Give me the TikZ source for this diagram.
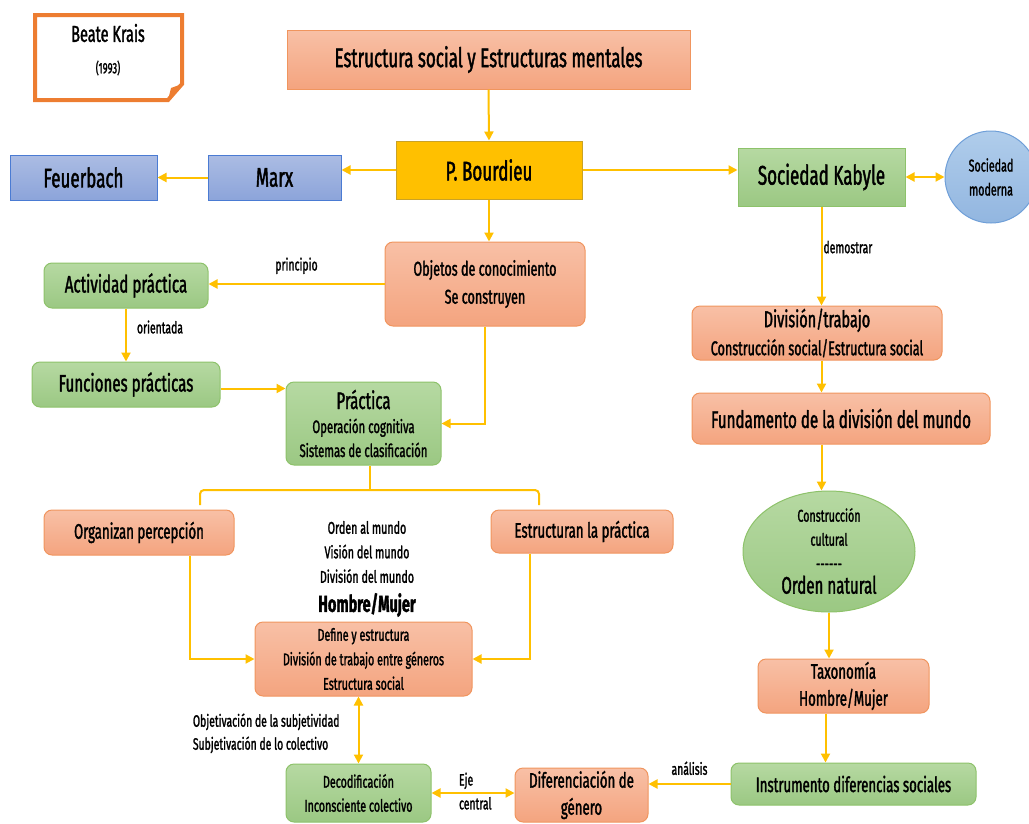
\documentclass[tikz,border=0pt]{standalone}
\usepackage{fontspec}
\setmainfont{Fira Sans}[FakeStretch=0.63, FakeBold=1.5]
\usetikzlibrary{arrows.meta, shapes.geometric}

\definecolor{oro}{HTML}{FFC000}
\definecolor{naranja}{HTML}{ED7D31}
\definecolor{salmonA}{HTML}{F8C0A6}
\definecolor{salmonB}{HTML}{F4A47F}
\definecolor{salmonL}{HTML}{F0955E}
\definecolor{verdeA}{HTML}{B6D9A2}
\definecolor{verdeB}{HTML}{9BC883}
\definecolor{verdeL}{HTML}{8DC26A}
\definecolor{azulA}{HTML}{ABBCE3}
\definecolor{azulB}{HTML}{8CA4DA}
\definecolor{azulL}{HTML}{4A7BD3}
\definecolor{cieloA}{HTML}{B0CDEB}
\definecolor{cieloB}{HTML}{92B6E0}
\definecolor{cieloL}{HTML}{6F9FD8}
\definecolor{oroL}{HTML}{C9A227}

\newcommand{\tam}[2]{\fontsize{#1}{#2}\selectfont}

\tikzset{
  arr/.style={draw=oro, line width=2pt, -{Triangle[length=9pt,width=9pt]}},
  dblarr/.style={arr, {Triangle[length=9pt,width=9pt]}-{Triangle[length=9pt,width=9pt]}},
  caja/.style={line width=1pt, align=center, inner sep=0pt},
  salmon/.style={caja, draw=salmonL, top color=salmonA, bottom color=salmonB},
  verde/.style={caja, draw=verdeL, top color=verdeA, bottom color=verdeB},
  azul/.style={caja, draw=azulL, top color=azulA, bottom color=azulB},
  redondo/.style={rounded corners=8pt},
  etiqueta/.style={font=\tam{16.5}{23}, inner sep=0pt}
}

\begin{document}
\begin{tikzpicture}[x=1pt,y=-1pt]
\useasboundingbox (0,0) rectangle (1029,823);

% nota del autor
\draw[naranja, line width=4pt, fill=white] (35,15) -- (182,15) -- (182,84) -- (168,100) -- (35,100) -- cycle;
\fill[naranja] (168,100) -- (171,88) -- (182,84) -- cycle;
\node[font=\tam{23}{26}] (krais) at (108,33) {Beate Krais};
\node[font=\tam{15}{18}] (anio) at (108,68) {(1993)};

% fila superior
\node[salmon, minimum width=403pt, minimum height=59pt, font=\tam{27}{30}] (estructura) at (488.5,59.5) {Estructura social y Estructuras mentales};
\node[caja, draw=oroL, fill=oro, minimum width=186pt, minimum height=58pt, font=\tam{27}{30}] (bourdieu) at (489,170) {P. Bourdieu};
\node[azul, minimum width=133pt, minimum height=45pt, font=\tam{27}{30}] (marx) at (274.5,177.5) {Marx};
\node[azul, minimum width=147pt, minimum height=45pt, font=\tam{27}{30}] (feuerbach) at (83.5,177.5) {Feuerbach};
\node[verde, minimum width=167pt, minimum height=58pt, font=\tam{27}{30}] (kabyle) at (821.5,177) {Sociedad Kabyle};
\node[caja, circle, draw=cieloL, top color=cieloA, bottom color=cieloB, minimum size=92pt, font=\tam{17}{24}] (moderna) at (991,177) {Sociedad\\moderna};

% columna izquierda
\node[salmon, redondo, minimum width=200pt, minimum height=84pt, font=\tam{20}{28}] (objetos) at (485,284) {Objetos de conocimiento\\Se construyen};
\node[verde, redondo, minimum width=164pt, minimum height=45pt, font=\tam{24}{28}] (actividad) at (126,285.5) {Actividad práctica};
\node[verde, redondo, minimum width=188pt, minimum height=45pt, font=\tam{24}{28}] (funciones) at (126,384.5) {Funciones prácticas};
\node[verde, redondo, minimum width=155pt, minimum height=83pt, font=\tam{18}{24}] (practica) at (363.5,423.5) {{\tam{24}{26}Práctica}\\Operación cognitiva\\Sistemas de clasificación};
\node[salmon, redondo, minimum width=190pt, minimum height=45pt, font=\tam{21}{26}] (organizan) at (139,532.5) {Organizan percepción};
\node[salmon, redondo, minimum width=182pt, minimum height=43pt, font=\tam{21}{26}] (estructuran) at (582,531.5) {Estructuran la práctica};
\node[font=\tam{17}{24.5}, align=center] (orden) at (367,552) {Orden al mundo\\Visión del mundo\\División del mundo};
\node[font=\tam{23}{28}\bfseries] (hombre) at (367,605) {Hombre/Mujer};
\node[salmon, redondo, minimum width=217pt, minimum height=74pt, font=\tam{17}{24.5}] (define) at (363.5,659) {Define y estructura\\División de trabajo entre géneros\\Estructura social};
\node[verde, redondo, minimum width=145pt, minimum height=58pt, font=\tam{17}{24}] (decod) at (358.5,793) {Decodificación\\Inconsciente colectivo};
\node[salmon, redondo, minimum width=133pt, minimum height=54pt, font=\tam{21}{27}] (diferencia) at (581.5,795) {Diferenciación de\\género};

% columna derecha
\node[salmon, redondo, minimum width=250pt, minimum height=54pt, font=\tam{20}{28}] (division) at (817,333) {{\tam{23}{26}División/trabajo}\\Construcción social/Estructura social};
\node[salmon, redondo, minimum width=298pt, minimum height=51pt, font=\tam{24}{28}] (fundamento) at (841,418.5) {Fundamento de la división del mundo};
\node[caja, ellipse, draw=verdeL, top color=verdeA, bottom color=verdeB, minimum width=172pt, minimum height=121pt] (construccion) at (829,551.5) {};
\node[font=\tam{17}{24}, align=center] (ctexto) at (829,551) {Construcción\\cultural\\{-}{-}{-}{-}{-}{-}\\{\tam{24}{26}Orden natural}};
\node[salmon, redondo, minimum width=171pt, minimum height=54pt, font=\tam{21}{27}] (taxonomia) at (843.5,686) {Taxonomía\\Hombre/Mujer};
\node[verde, redondo, minimum width=245pt, minimum height=42pt, font=\tam{21}{26}] (instrumento) at (853.5,784) {Instrumento diferencias sociales};

% conectores de arriba
\draw[arr] (estructura.south) -- (bourdieu.north);
\draw[arr] (bourdieu.west) -- (marx.east |- bourdieu.west);
\draw[arr] (marx.west) -- (feuerbach.east);
\draw[arr] (bourdieu.east) -- (kabyle.west |- bourdieu.east);
\draw[dblarr] (kabyle.east) -- (moderna.west);
\draw[arr] (bourdieu.south) -- (bourdieu.south |- objetos.north);

% izquierda
\draw[arr] (objetos.west) -- node[etiqueta, above=9pt] {principio} (actividad.east |- objetos.west);
\draw[arr] (actividad.south) -- node[etiqueta, pos=0.35, right=10pt] {orientada} (funciones.north);
\draw[arr] ([yshift=-4pt]funciones.east) -- ([yshift=-4pt]funciones.east -| practica.west);
\draw[arr] (objetos.south) |- (practica.east);
\coordinate (nudo) at (370,490);
\coordinate (bizq) at (200,505);
\coordinate (bder) at (539,505);
\draw[draw=oro, line width=2pt] (practica.south -| nudo) -- (nudo);
\draw[draw=oro, line width=2pt, rounded corners=4pt] (bizq) |- (nudo) -| (bder);
\draw[arr] ([xshift=51pt]organizan.south) |- (define.west);
\draw[arr] ([xshift=-52pt]estructuran.south) |- (define.east);
\draw[dblarr] (decod.north) -- node[etiqueta, pos=0.45, left=18pt, align=left] {Objetivación de la subjetividad\\Subjetivación de lo colectivo} (decod.north |- define.south);
\draw[dblarr] (decod.east) -- node[etiqueta, pos=0.32, anchor=south west, yshift=3pt] {Eje} node[etiqueta, pos=0.32, anchor=north west, yshift=-3pt] {central} (diferencia.west |- decod.east);

% derecha
\draw[arr] (kabyle.south) -- node[etiqueta, pos=0.41, anchor=west, xshift=1pt] {demostrar} (kabyle.south |- division.north);
\draw[arr] (kabyle.south |- division.south) -- (kabyle.south |- fundamento.north);
\draw[arr] (kabyle.south |- fundamento.south) -- (kabyle.south |- construccion.north);
\draw[arr] (construccion.south) -- (construccion.south |- taxonomia.north);
\draw[arr] ([xshift=-18pt]taxonomia.south) -- ([xshift=-18pt]taxonomia.south |- instrumento.north);
\draw[arr] (instrumento.west) -- node[etiqueta, above=8pt] {análisis} (diferencia.east |- instrumento.west);
\end{tikzpicture}
\end{document}
